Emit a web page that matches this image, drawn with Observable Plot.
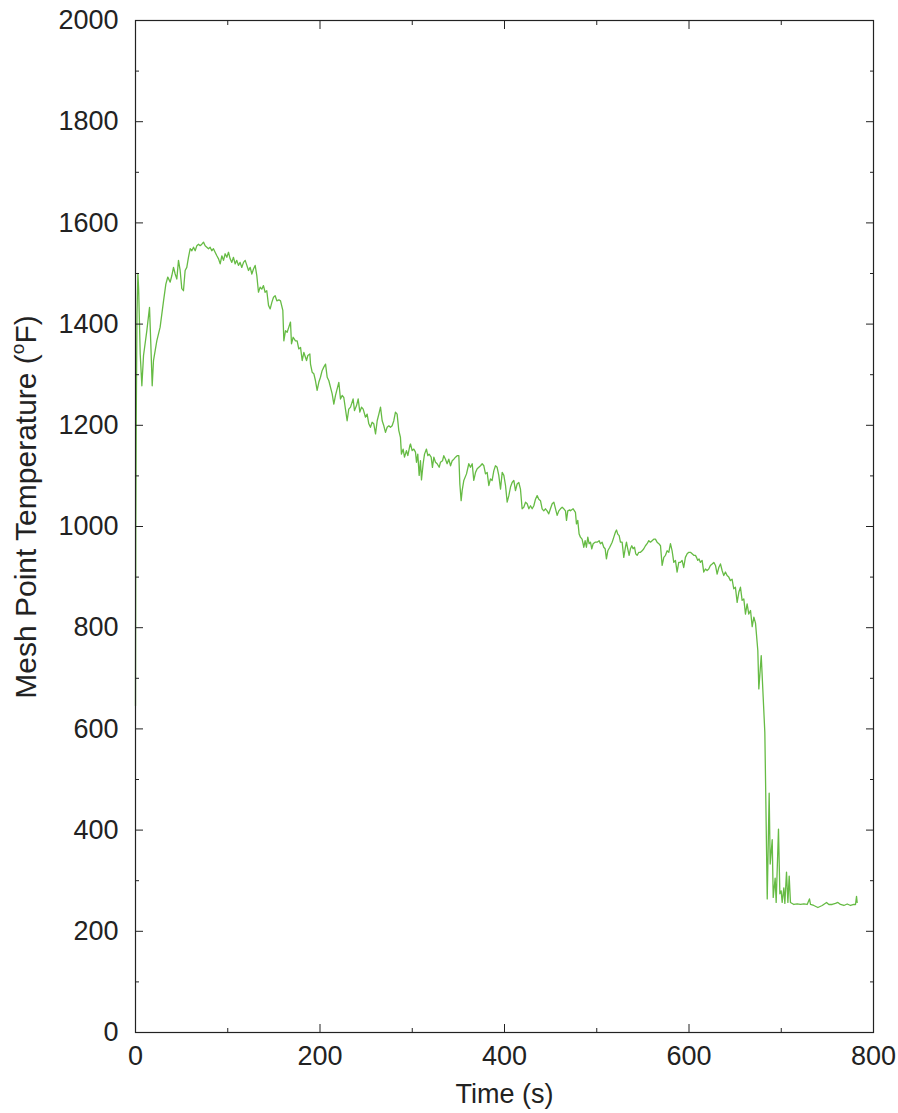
<!DOCTYPE html>
<html><head><meta charset="utf-8">
<script src="https://cdn.jsdelivr.net/npm/d3@7"></script>
<script src="https://cdn.jsdelivr.net/npm/@observablehq/plot@0.6"></script>
<style>html,body{margin:0;padding:0;background:#fff}</style>
</head><body><div id="chart"></div><script>
const time = [0,0.3,0.8,1.6,2.6,3.4,5.1,6.9,8.7,12.3,15.2,16.6,18.1,19.5,23.1,26.7,30.4,32.9,35.0,37.6,39.4,41.2,43.0,44.8,46.6,48.4,50.2,52.0,53.8,55.6,57.4,59.3,61.1,62.9,64.7,66.5,68.3,70.1,71.9,73.7,75.5,77.3,79.1,80.9,82.7,84.5,86.3,88.2,90.0,91.8,93.6,95.4,97.2,99.0,100.8,102.6,104.4,106.2,108.0,109.8,111.6,113.4,115.2,117.1,118.9,120.7,122.5,124.3,126.1,127.9,129.7,131.5,133.3,135.1,136.9,138.7,140.5,142.3,144.2,146.0,147.8,149.6,151.4,153.2,155.4,157.2,159.7,160.8,162.6,164.4,166.2,168.0,169.1,170.9,173.4,175.2,177.0,178.9,180.7,182.5,185.4,186.8,189.0,189.7,191.5,193.3,195.1,196.9,198.7,200.5,202.3,204.1,206.0,207.8,209.6,211.4,213.2,215.0,216.8,220.4,222.2,224.0,225.8,227.6,229.4,231.2,233.1,235.9,237.4,239.6,241.4,243.2,245.0,246.8,249.3,251.1,252.9,254.7,256.5,258.3,260.2,262.0,263.8,265.6,267.4,269.2,271.0,272.8,274.6,276.4,278.2,280.0,281.8,283.6,285.4,287.2,288.3,290.1,291.6,293.7,295.2,297.4,298.1,299.9,301.7,303.5,304.6,306.0,307.5,308.9,310.0,311.8,313.3,315.4,316.9,318.3,320.5,321.9,323.4,325.2,327.0,329.2,330.6,332.8,334.2,336.0,337.8,339.6,341.5,343.3,345.1,346.9,348.7,350.5,351.6,353.0,354.1,355.9,358.8,361.3,363.1,365.0,366.7,368.6,370.4,372.2,374.0,375.8,377.6,379.4,381.2,383.0,384.8,386.6,388.4,390.2,392.0,393.8,395.7,397.5,399.3,401.1,402.9,404.7,406.5,408.3,410.1,411.9,413.7,415.5,417.3,419.1,420.9,422.8,424.6,426.4,428.2,430.0,431.8,433.6,435.4,437.2,439.0,440.8,442.6,444.4,446.2,448.0,449.8,451.7,453.5,455.3,457.1,458.9,460.7,462.5,464.3,466.1,467.2,468.6,470.8,471.5,474.4,476.9,478.0,479.4,480.9,482.3,484.1,486.0,487.4,488.8,490.3,491.7,493.2,494.6,496.1,498.2,500.4,502.6,504.0,505.8,507.6,509.1,510.5,512.0,514.1,516.7,518.5,520.3,521.4,522.8,524.3,525.7,527.5,529.3,531.1,532.2,533.6,535.1,536.5,538.0,539.4,540.9,542.3,543.8,545.6,547.4,549.2,551.0,552.8,554.6,556.4,558.2,560.0,561.8,563.6,565.4,567.3,569.1,570.9,572.7,574.5,576.3,578.1,579.9,581.7,583.5,585.3,587.1,588.9,590.7,592.5,594.3,596.1,598.0,599.8,601.6,603.4,605.2,607.0,608.1,609.5,610.9,612.4,614.2,616.0,617.8,619.6,621.4,623.2,625.1,626.9,628.7,630.5,632.3,634.1,635.9,637.7,639.5,641.3,643.1,644.9,646.7,648.5,650.3,652.2,654.0,655.8,657.6,659.4,661.2,663.0,664.8,666.7,668.5,670.3,672.1,674.6,675.7,678.3,680.4,682.2,683.0,684.8,686.9,688.0,690.2,691.3,693.4,694.5,697.0,698.5,699.9,701.0,702.8,703.9,705.7,707.2,708.6,710.0,713.7,717.3,720.9,724.5,728.1,730.6,731.7,735.3,739.7,744.4,749.1,751.6,755.2,758.8,761.4,764.2,767.9,771.5,775.1,778.7,780.5,781.6,782.3];
const temperature = [646,1000,1210,1420,1500,1470,1341,1278,1338,1387,1433,1361,1278,1328,1367,1394,1446,1479,1493,1483,1496,1512,1499,1489,1526,1506,1470,1466,1506,1512,1532,1549,1545,1552,1545,1555,1558,1555,1558,1562,1555,1552,1549,1552,1545,1549,1542,1535,1529,1519,1535,1526,1539,1532,1542,1529,1522,1532,1519,1526,1516,1522,1512,1522,1526,1516,1506,1512,1499,1509,1516,1496,1463,1473,1469,1476,1463,1466,1437,1430,1443,1453,1456,1446,1448,1446,1427,1367,1387,1384,1394,1404,1361,1374,1367,1367,1351,1354,1328,1344,1328,1338,1341,1321,1305,1302,1288,1269,1285,1295,1308,1315,1321,1295,1288,1275,1262,1242,1259,1285,1252,1259,1255,1232,1209,1232,1236,1252,1229,1239,1252,1226,1236,1232,1216,1222,1203,1196,1206,1203,1183,1209,1222,1236,1209,1199,1186,1196,1199,1196,1199,1209,1226,1222,1190,1176,1143,1153,1137,1150,1140,1160,1163,1150,1153,1147,1127,1143,1101,1130,1092,1124,1143,1153,1140,1143,1137,1117,1137,1127,1124,1117,1127,1130,1140,1133,1124,1133,1120,1130,1133,1137,1140,1140,1084,1051,1071,1091,1104,1124,1117,1124,1091,1107,1114,1117,1120,1124,1120,1104,1107,1081,1094,1091,1110,1120,1117,1101,1074,1107,1101,1081,1048,1061,1078,1087,1091,1071,1084,1087,1074,1035,1038,1048,1045,1035,1041,1035,1041,1054,1061,1054,1051,1035,1031,1035,1031,1025,1035,1045,1048,1035,1022,1031,1035,1038,1035,1031,1012,1031,1033,1031,1035,1028,1005,1012,985,979,975,959,972,959,979,966,969,956,966,969,969,972,966,969,959,956,936,952,959,969,979,989,993,985,982,969,969,939,959,969,956,943,956,962,956,959,946,943,949,949,952,956,962,966,972,969,972,975,975,969,966,962,923,939,943,952,949,966,952,929,933,910,929,929,933,919,939,946,949,949,946,943,943,939,933,936,929,933,910,916,913,916,923,926,929,923,906,919,926,913,903,910,903,900,893,896,877,880,850,870,880,854,857,827,847,827,834,802,821,809,755,679,745,663,593,495,264,473,333,381,267,305,257,402,274,280,257,286,255,317,257,309,257,253,254,253,254,253,264,253,251,247,251,257,253,253,255,257,253,251,254,251,253,253,269,257];
const xTicks = [0,200,400,600,800];
const xMinorTicks = [100,300,500,700];
const yTicks = [0,200,400,600,800,1000,1200,1400,1600,1800,2000];
const yMinorTicks = [100,300,500,700,900,1100,1300,1500,1700,1900];
const xLabel = "Time (s)";
const yLabelParts = ["Mesh Point Temperature (", "o", "F)"];

const data = time.map((t, i) => ({t, T: temperature[i]}));
const font = "'Liberation Sans', Arial, Helvetica, sans-serif";
const blank = () => "";
const plain = d => String(d);

const plot = Plot.plot({
  width: 898, height: 1113,
  marginLeft: 135, marginRight: 25, marginTop: 20, marginBottom: 81,
  style: {fontFamily: font, fontSize: "27px", background: "#fff", color: "#222", overflow: "visible"},
  x: {domain: [0, 800]},
  y: {domain: [0, 2000]},
  marks: [
    Plot.line(data, {x: "t", y: "T", stroke: "#66bb44", strokeWidth: 1.3}),
    Plot.frame({stroke: "#222", strokeWidth: 1.2}),
    Plot.axisX(xTicks, {anchor: "bottom", tickSize: 0, tickPadding: 13, tickFormat: plain, label: xLabel, labelAnchor: "center", labelArrow: "none", labelOffset: 70}),
    Plot.axisX(xTicks, {anchor: "bottom", tickSize: -8, tickFormat: blank, label: null}),
    Plot.axisX(xMinorTicks, {anchor: "bottom", tickSize: -4, tickFormat: blank, label: null}),
    Plot.axisX(xTicks, {anchor: "top", tickSize: -8, tickFormat: blank, label: null}),
    Plot.axisX(xMinorTicks, {anchor: "top", tickSize: -4, tickFormat: blank, label: null}),
    Plot.axisY(yTicks, {anchor: "left", tickSize: 0, tickPadding: 17, tickFormat: plain, label: null}),
    Plot.axisY(yTicks, {anchor: "left", tickSize: -8, tickFormat: blank, label: null}),
    Plot.axisY(yMinorTicks, {anchor: "left", tickSize: -4, tickFormat: blank, label: null}),
    Plot.axisY(yTicks, {anchor: "right", tickSize: -8, tickFormat: blank, label: null}),
    Plot.axisY(yMinorTicks, {anchor: "right", tickSize: -4, tickFormat: blank, label: null})
  ]
});
document.getElementById("chart").appendChild(plot);

const svg = d3.select(plot);
const lab = svg.append("text")
  .attr("transform", "translate(36,507) rotate(-90)")
  .attr("text-anchor", "middle")
  .attr("font-family", font)
  .attr("font-size", 30)
  .attr("fill", "#222");
lab.append("tspan").text(yLabelParts[0]);
lab.append("tspan").attr("font-size", 19).attr("dy", -12).text(yLabelParts[1]);
lab.append("tspan").attr("dy", 12).text(yLabelParts[2]);
</script></body></html>
